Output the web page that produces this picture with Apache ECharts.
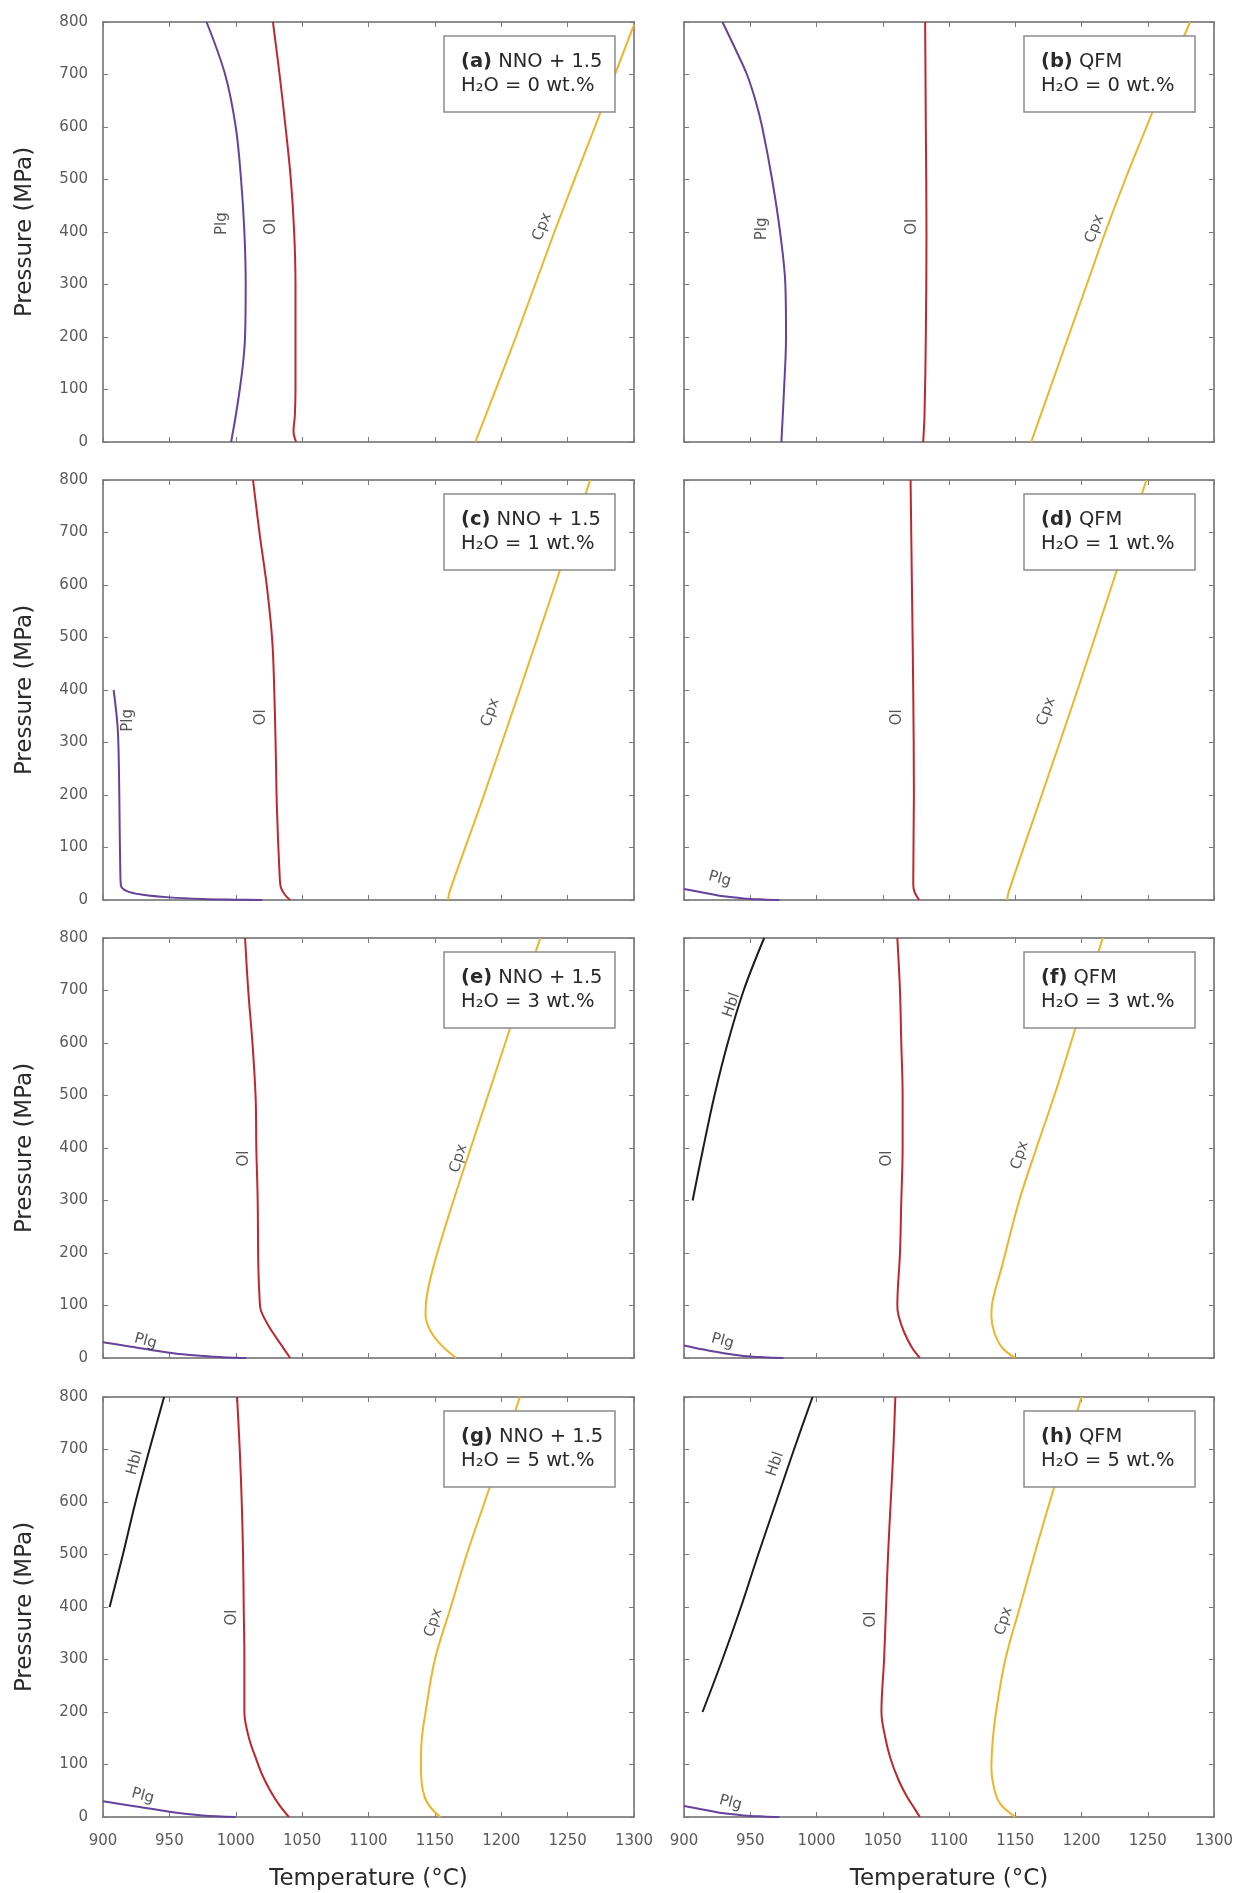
<!DOCTYPE html>
<html>
<head>
<meta charset="utf-8">
<title>Phase-in boundaries of Plg, Ol, Cpx and Hbl</title>
<script src="https://cdn.jsdelivr.net/npm/echarts@6/dist/echarts.min.js"></script>
<style>
  html, body { margin: 0; padding: 0; background: #ffffff; }
  #chart { width: 1239px; height: 1893px; }
</style>
</head>
<body>
<div id="chart"></div>
<script>
// ---- axes ----
const tempRange = [900, 1300];      // °C
const tempStep = 50;
const pressureRange = [0, 800];     // MPa
const pressureStep = 100;

// ---- panel captions ----
const panelTags = ['a', 'b', 'c', 'd', 'e', 'f', 'g', 'h'];
const buffers = ['NNO + 1.5', 'QFM', 'NNO + 1.5', 'QFM', 'NNO + 1.5', 'QFM', 'NNO + 1.5', 'QFM'];
const waterContents = [0, 0, 1, 1, 3, 3, 5, 5];   // wt.%

// ---- phase-in curves, [temperature °C, pressure MPa] ----
// (a) NNO + 1.5, 0 wt.% H2O
const plgA = [[996.5,0],[1000,50],[1003,100],[1005.5,150],[1007,200],[1007.5,300],[1006.5,400],[1004,500],[1000,600],[992,700],[978,800]];
const olA  = [[1045.5,0],[1043.5,20],[1044.5,50],[1045,100],[1045,200],[1045,300],[1044,400],[1041.5,500],[1037.5,600],[1033,700],[1028,800]];
const cpxA = [[1180.5,0],[1211,200],[1240,400],[1270.5,600],[1300,795]];
// (b) QFM, 0 wt.% H2O
const plgB = [[973.5,0],[975.5,100],[977,200],[976.5,300],[972.5,400],[966.5,500],[959,600],[954,650],[947.5,700],[938.5,750],[929,800]];
const olB  = [[1080.5,0],[1081.5,50],[1082.5,200],[1083,400],[1082.5,600],[1082,800]];
const cpxB = [[1162,0],[1176,100],[1190,200],[1204,300],[1218,400],[1233,500],[1249,600],[1265,700],[1282,800]];
// (c) NNO + 1.5, 1 wt.% H2O
const plgC = [[1020,0],[1000,0.7],[975,2],[950,5],[930,10],[918,17],[913.5,28],[913,60],[912.5,150],[912,250],[911,330],[908,400]];
const olC  = [[1041,0],[1037,10],[1034,24],[1033,50],[1031,176],[1030,300],[1029,400],[1027.5,494],[1023.5,596],[1018,697],[1013,800]];
const cpxC = [[1160,0],[1161,15],[1187,200],[1214,400],[1240.5,600],[1267,800]];
// (d) QFM, 1 wt.% H2O
const plgD = [[972,0],[960,1],[945,3],[930,7],[915,14],[900,21]];
const olD  = [[1077.5,0],[1074,15],[1073,30],[1073.5,200],[1073,400],[1072,600],[1071,800]];
const cpxD = [[1144,0],[1145,15],[1170,200],[1197,400],[1223,600],[1249,800]];
// (e) NNO + 1.5, 3 wt.% H2O
const plgE = [[1008,0],[1000,0.5],[980,3],[960,7],[940,14],[920,22],[900,30]];
const olE  = [[1041,0],[1034.5,24],[1025,60],[1019,90],[1018,110],[1017,176],[1016.5,303],[1015.5,400],[1015,494],[1012.7,596],[1009.5,697],[1007,800]];
const cpxE = [[1166,0],[1155,24],[1147,50],[1143,80],[1143.5,110],[1149,175],[1164,300],[1177,400],[1190,500],[1203,600],[1216,700],[1229.5,800]];
// (f) QFM, 3 wt.% H2O
const plgF = [[975,0],[960,1.5],[945,4],[930,9],[915,16],[900,24]];
const olF  = [[1078,0],[1072,20],[1066,50],[1062,80],[1061,100],[1063,200],[1064,300],[1065,400],[1065,500],[1064,600],[1063,700],[1061,800]];
const hblF = [[906.5,300],[914.5,400],[923,500],[933,600],[945,700],[960.5,800]];
const cpxF = [[1150,0],[1140,20],[1134,50],[1132,80],[1133,110],[1140,175],[1153,300],[1166,400],[1179.5,500],[1192,600],[1204,700],[1216,800]];
// (g) NNO + 1.5, 5 wt.% H2O
const plgG = [[1000,0],[975,3],[950,10],[925,20],[900,30]];
const olG  = [[1040,0],[1033,22],[1026,50],[1020,80],[1015,113],[1010,150],[1006.5,200],[1006.5,300],[1006,400],[1005.5,500],[1004.5,600],[1003,700],[1001,800]];
const hblG = [[905,400],[915,500],[924.5,600],[935,700],[946,800]];
const cpxG = [[1154,0],[1145,24],[1141,50],[1139.5,94],[1140,145],[1143,200],[1150,300],[1162,400],[1174,500],[1187.5,600],[1201,700],[1214,800]];
// (h) QFM, 5 wt.% H2O
const plgH = [[972,0],[960,1],[945,3],[930,7],[915,14],[900,21]];
const olH  = [[1078,0],[1073,20],[1068,40],[1062,70],[1056,110],[1052,150],[1049,200],[1051,300],[1052.5,400],[1054,500],[1056,600],[1058,700],[1059.5,800]];
const hblH = [[914,200],[929,300],[943,400],[956,500],[969.5,600],[983,700],[997,800]];
const cpxH = [[1150,0],[1139,24],[1134.5,50],[1132,94],[1133,145],[1135.5,200],[1142.5,300],[1153.5,400],[1164.5,500],[1176,600],[1188,700],[1200,800]];

// curve labels: [phase, temperature °C, pressure MPa, text angle]
const labelsA = [['Plg',990,416,90],['Ol',1027,410,90],['Cpx',1231,410,69]];
const labelsB = [['Plg',959,406,90],['Ol',1072,410,90],['Cpx',1210,406,69]];
const labelsC = [['Plg',919,342,90],['Ol',1019,348,90],['Cpx',1192,357,71]];
const labelsD = [['Plg',927,40,-15],['Ol',1061,348,90],['Cpx',1173.5,359,71]];
const labelsE = [['Plg',932,32,-15],['Ol',1006,380,90],['Cpx',1168,380,73]];
const labelsF = [['Plg',929,32,-15],['Hbl',936,672,71],['Ol',1053,380,90],['Cpx',1153.5,386,73]];
const labelsG = [['Plg',930,40,-15],['Hbl',924,675,75],['Ol',997.6,380,90],['Cpx',1149,370,73]];
const labelsH = [['Plg',935,27,-15],['Hbl',969,672,71],['Ol',1041,376,90],['Cpx',1141.5,373,73]];

const panelCurves = [
  { Plg: plgA, Ol: olA, Cpx: cpxA },
  { Plg: plgB, Ol: olB, Cpx: cpxB },
  { Plg: plgC, Ol: olC, Cpx: cpxC },
  { Plg: plgD, Ol: olD, Cpx: cpxD },
  { Plg: plgE, Ol: olE, Cpx: cpxE },
  { Plg: plgF, Ol: olF, Cpx: cpxF, Hbl: hblF },
  { Plg: plgG, Ol: olG, Cpx: cpxG, Hbl: hblG },
  { Plg: plgH, Ol: olH, Cpx: cpxH, Hbl: hblH }
];
const panelLabels = [labelsA, labelsB, labelsC, labelsD, labelsE, labelsF, labelsG, labelsH];

// ---- styling / layout ----
const phaseColors = { Plg: '#65439a', Ol: '#c0262d', Cpx: '#efb42a', Hbl: '#1c1c1c' };
const FONT = 'DejaVu Sans';
const colLeft = [103, 684];
const colWidth = [531, 530];
const rowTop = [22, 480, 938, 1397];
const rowHeight = 420;
const frameColor = '#6a6a6a';
const tickColor = '#7a7a7a';
const plainNumber = v => String(v);

const grids = [], xAxes = [], yAxes = [], series = [], graphics = [];

panelTags.forEach((tag, i) => {
  const row = Math.floor(i / 2), col = i % 2;
  grids.push({ left: colLeft[col], top: rowTop[row], width: colWidth[col], height: rowHeight, containLabel: false });

  const isBottom = row === 3, isLeft = col === 0;
  const axisLine = { show: true, onZero: false, lineStyle: { color: frameColor, width: 1.5 } };
  const axisTick = { show: true, inside: true, length: 5, lineStyle: { color: tickColor, width: 1 } };

  xAxes.push({
    type: 'value', gridIndex: i, position: 'bottom',
    min: tempRange[0], max: tempRange[1], interval: tempStep,
    axisLine, axisTick, splitLine: { show: false },
    axisLabel: { show: isBottom, fontFamily: FONT, fontSize: 15, color: '#5a5a5a', margin: 17, formatter: plainNumber },
    name: isBottom ? 'Temperature (°C)' : '', nameLocation: 'middle', nameGap: 51,
    nameTextStyle: { fontFamily: FONT, fontSize: 23, color: '#2a2a2a' }
  });
  xAxes.push({
    type: 'value', gridIndex: i, position: 'top',
    min: tempRange[0], max: tempRange[1], interval: tempStep,
    axisLine, axisTick, splitLine: { show: false }, axisLabel: { show: false }
  });
  yAxes.push({
    type: 'value', gridIndex: i, position: 'left',
    min: pressureRange[0], max: pressureRange[1], interval: pressureStep,
    axisLine, axisTick, splitLine: { show: false },
    axisLabel: { show: isLeft, fontFamily: FONT, fontSize: 15, color: '#5a5a5a', margin: 15, formatter: plainNumber },
    name: isLeft ? 'Pressure (MPa)' : '', nameLocation: 'middle', nameGap: 66,
    nameTextStyle: { fontFamily: FONT, fontSize: 23, color: '#2a2a2a' }
  });
  yAxes.push({
    type: 'value', gridIndex: i, position: 'right',
    min: pressureRange[0], max: pressureRange[1], interval: pressureStep,
    axisLine, axisTick, splitLine: { show: false }, axisLabel: { show: false }
  });

  const curves = panelCurves[i];
  Object.keys(curves).forEach(phase => {
    series.push({
      type: 'line', name: phase,
      xAxisIndex: 2 * i, yAxisIndex: 2 * i,
      data: curves[phase],
      showSymbol: false, smooth: 0.35,
      lineStyle: { color: phaseColors[phase], width: 2 },
      z: 3, silent: true
    });
  });

  series.push({
    type: 'scatter', name: 'labels-' + tag,
    xAxisIndex: 2 * i, yAxisIndex: 2 * i,
    symbolSize: 1, itemStyle: { color: 'rgba(0,0,0,0)' },
    data: panelLabels[i].map(([phase, t, p, angle]) => ({
      name: phase, value: [t, p], label: { rotate: angle }
    })),
    label: {
      show: true, position: 'inside', formatter: '{b}',
      fontFamily: FONT, fontSize: 15, color: '#2a2a2a'
    },
    z: 4, silent: true
  });

  // caption box in the upper right corner of each panel
  const boxW = 171, boxH = 76;
  const bx = colLeft[col] + colWidth[col] - 19 - boxW;
  const by = rowTop[row] + 14;
  graphics.push({
    type: 'rect', z: 100,
    shape: { x: bx, y: by, width: boxW, height: boxH },
    style: { fill: '#ffffff', stroke: '#8c8c8c', lineWidth: 1.5 }
  });
  graphics.push({
    type: 'text', z: 101, x: bx + 17, y: by + 14,
    style: {
      text: '{b|(' + tag + ')} ' + buffers[i] + '\nH₂O = ' + waterContents[i] + ' wt.%',
      fill: '#2a2a2a', fontFamily: FONT, fontSize: 19.5, lineHeight: 24,
      rich: { b: { fontWeight: 'bold', fontFamily: FONT, fontSize: 19.5, lineHeight: 24, fill: '#2a2a2a' } }
    }
  });
});

const chart = echarts.init(document.getElementById('chart'), null, { renderer: 'canvas' });
chart.setOption({
  animation: false,
  backgroundColor: '#ffffff',
  textStyle: { fontFamily: FONT },
  grid: grids,
  xAxis: xAxes,
  yAxis: yAxes,
  series: series,
  graphic: graphics
});
</script>
</body>
</html>
